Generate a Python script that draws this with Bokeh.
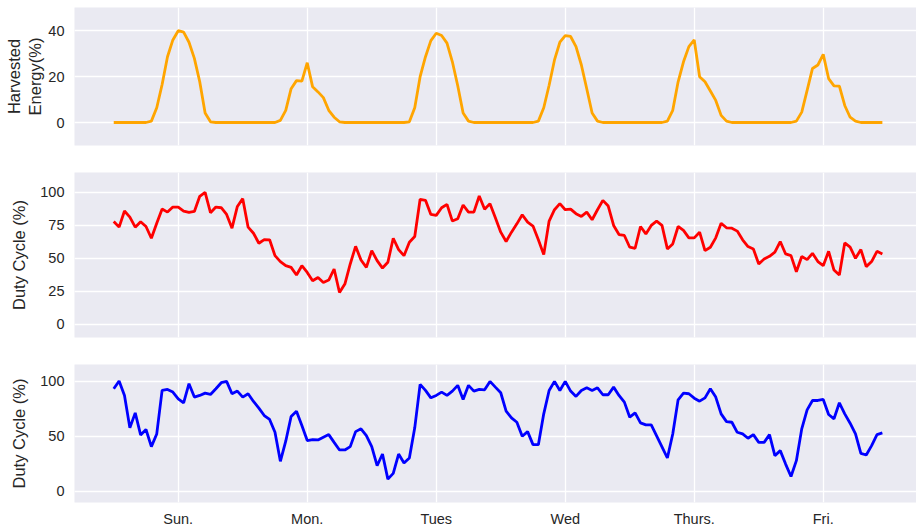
from bokeh.plotting import figure
from bokeh.layouts import column
from bokeh.models import Range1d, FixedTicker
from bokeh.embed import file_html
from bokeh.resources import INLINE
import numpy as np

# Hourly samples, hour 0 = midday Sunday
hours = np.arange(-12, 132)

day_ticks = [0, 24, 48, 72, 96, 120]
day_labels = ["Sun.", "Mon.", "Tues", "Wed", "Thurs.", "Fri."]

harvested = [
    0, 0, 0, 0, 0, 0, 0, 0.6, 6.4, 16.5, 28.6, 35.9,
    39.9, 39.3, 34.9, 27.9, 17.7, 4.1, 0.3, 0, 0, 0, 0, 0,
    0, 0, 0, 0, 0, 0, 0, 0.9, 5.3, 14.7, 18.2, 18.0,
    26.0, 15.5, 13.3, 10.8, 5.3, 2.3, 0.3, 0, 0, 0, 0, 0,
    0, 0, 0, 0, 0, 0, 0, 0.3, 6.4, 19.9, 28.6, 35.6,
    38.8, 37.8, 34.5, 26.4, 16.0, 4.1, 0.6, 0, 0, 0, 0, 0,
    0, 0, 0, 0, 0, 0, 0, 0.6, 6.4, 16.2, 27.2, 34.9,
    37.8, 37.4, 33.0, 25.0, 14.7, 4.1, 0.6, 0, 0, 0, 0, 0,
    0, 0, 0, 0, 0, 0, 0, 0.6, 5.3, 17.7, 26.4, 33.0,
    35.9, 19.9, 17.7, 13.7, 9.6, 3.1, 0.6, 0, 0, 0, 0, 0,
    0, 0, 0, 0, 0, 0, 0, 0.6, 4.5, 14.0, 23.5, 25.0,
    29.6, 19.1, 15.9, 15.8, 7.4, 2.3, 0.6, 0, 0, 0, 0, 0,
]

duty_red = [
    77.9, 73.6, 85.8, 81.2, 73.6, 77.7, 74.1, 65.2, 76.6, 87.3, 85.0, 88.8,
    88.8, 85.8, 84.8, 85.5, 97.0, 100.0, 84.5, 88.8, 88.3, 83.2, 72.8, 89.3,
    95.2, 73.6, 69.0, 61.4, 64.2, 64.0, 52.0, 47.5, 44.4, 43.1, 37.3, 44.4,
    39.3, 33.0, 35.5, 31.7, 33.5, 41.9, 24.1, 30.5, 45.7, 59.1, 48.7, 43.1,
    55.8, 48.2, 42.6, 47.0, 65.2, 56.6, 52.0, 62.2, 66.5, 94.7, 93.9, 83.2,
    82.5, 88.3, 90.9, 78.2, 79.9, 90.4, 85.0, 85.0, 97.2, 87.1, 91.4, 80.7,
    69.8, 62.7, 69.8, 76.1, 83.0, 77.4, 74.4, 64.0, 52.8, 78.2, 86.8, 91.4,
    86.8, 87.3, 83.8, 81.7, 85.0, 79.2, 86.8, 93.9, 89.6, 74.9, 68.0, 67.3,
    58.4, 57.6, 74.1, 68.5, 74.9, 78.2, 74.9, 57.1, 60.9, 74.1, 71.1, 65.5,
    65.5, 69.8, 55.8, 58.4, 65.5, 76.6, 73.1, 72.8, 70.6, 64.0, 58.9, 57.1,
    45.7, 49.5, 51.5, 54.6, 62.7, 53.3, 52.0, 39.8, 51.3, 49.0, 53.8, 47.5,
    44.4, 55.3, 41.1, 37.3, 61.7, 58.4, 50.0, 56.6, 43.7, 47.5, 55.3, 53.3,
]

duty_blue = [
    93.0, 100.0, 87.0, 57.6, 71.2, 51.2, 56.1, 40.6, 52.1, 91.5, 92.4, 90.0,
    83.9, 80.3, 97.6, 85.5, 87.0, 89.1, 87.9, 93.0, 98.5, 99.7, 88.5, 90.9,
    85.5, 88.5, 81.5, 75.5, 68.8, 65.2, 53.6, 27.3, 45.5, 67.9, 72.7, 59.7,
    46.1, 47.0, 46.7, 49.1, 51.5, 44.5, 37.6, 37.6, 40.6, 54.2, 56.7, 50.5,
    40.6, 23.3, 33.9, 11.2, 16.4, 33.9, 25.8, 30.3, 57.6, 97.0, 91.5, 84.8,
    87.0, 90.0, 87.0, 90.9, 96.1, 83.3, 96.1, 90.9, 92.4, 92.1, 99.7, 94.5,
    89.4, 72.7, 66.7, 62.7, 50.0, 54.2, 42.4, 42.4, 70.3, 91.5, 99.7, 91.5,
    99.7, 90.9, 86.1, 91.5, 93.9, 91.5, 93.9, 87.6, 87.6, 94.5, 87.0, 80.9,
    67.3, 71.2, 62.1, 60.3, 60.3, 50.3, 40.3, 30.3, 52.1, 83.0, 89.1, 88.5,
    84.5, 81.8, 84.8, 93.0, 85.5, 70.3, 63.3, 62.7, 53.6, 52.1, 48.2, 51.5,
    44.5, 44.5, 51.5, 32.4, 37.0, 24.8, 13.6, 27.9, 56.7, 73.9, 82.4, 82.4,
    83.3, 69.7, 65.8, 80.3, 70.3, 61.8, 52.1, 34.5, 33.0, 41.5, 51.5, 53.0,
]

FONT = "Liberation Sans"
TEXT = "#262626"
BG = "#EAEAF2"


def panel(frame_height, border_top, border_bottom, y_lo, y_hi, y_ticks,
          y_label, label_standoff, show_x):
    p = figure(
        width=916, frame_height=frame_height,
        min_border_left=74, min_border_right=0,
        min_border_top=border_top, min_border_bottom=border_bottom,
        x_range=Range1d(-19.3, 137.35), y_range=Range1d(y_lo, y_hi),
        output_backend="svg", toolbar_location=None,
        background_fill_color=BG, border_fill_color="white",
    )
    p.outline_line_color = None
    for ax in (p.xaxis, p.yaxis):
        ax.axis_line_color = None
        ax.major_tick_line_color = None
        ax.minor_tick_line_color = None
        ax.major_tick_out = 0
        ax.major_tick_in = 0
        ax.minor_tick_out = 0
        ax.major_label_text_font = FONT
        ax.major_label_text_font_size = "14.5px"
        ax.major_label_text_color = TEXT
        ax.axis_label_text_font = FONT
        ax.axis_label_text_font_size = "16.5px"
        ax.axis_label_text_font_style = "normal"
        ax.axis_label_text_color = TEXT

    p.xaxis.ticker = FixedTicker(ticks=day_ticks)
    p.xaxis.major_label_overrides = {t: l for t, l in zip(day_ticks, day_labels)}
    p.xaxis.major_label_standoff = 8
    p.xaxis.visible = show_x

    p.yaxis.ticker = FixedTicker(ticks=y_ticks)
    p.yaxis.major_label_standoff = 10
    p.yaxis.axis_label = y_label
    p.yaxis.axis_label_standoff = label_standoff

    p.xgrid.ticker = FixedTicker(ticks=day_ticks)
    p.ygrid.ticker = FixedTicker(ticks=y_ticks)
    for g in (p.xgrid, p.ygrid):
        g.grid_line_color = "white"
        g.grid_line_width = 1.3
    return p


p1 = panel(138, 7, 13, -10, 50, [0, 20, 40], "Harvested\nEnergy(%)", 1, False)
p1.line(hours, harvested, line_color="#FFA500", line_width=2.8)

p2 = panel(165, 14, 13, -10, 115, [0, 25, 50, 75, 100], "Duty Cycle (%)", 9, False)
p2.line(hours, duty_red, line_color="#FF0000", line_width=2.8)

p3 = panel(138, 14, 27, -10, 115, [0, 50, 100], "Duty Cycle (%)", 9, True)
p3.line(hours, duty_blue, line_color="#0000FF", line_width=2.8)

layout = column(p1, p2, p3, spacing=0)

with open("out.html", "w") as f:
    f.write(file_html(layout, INLINE))
